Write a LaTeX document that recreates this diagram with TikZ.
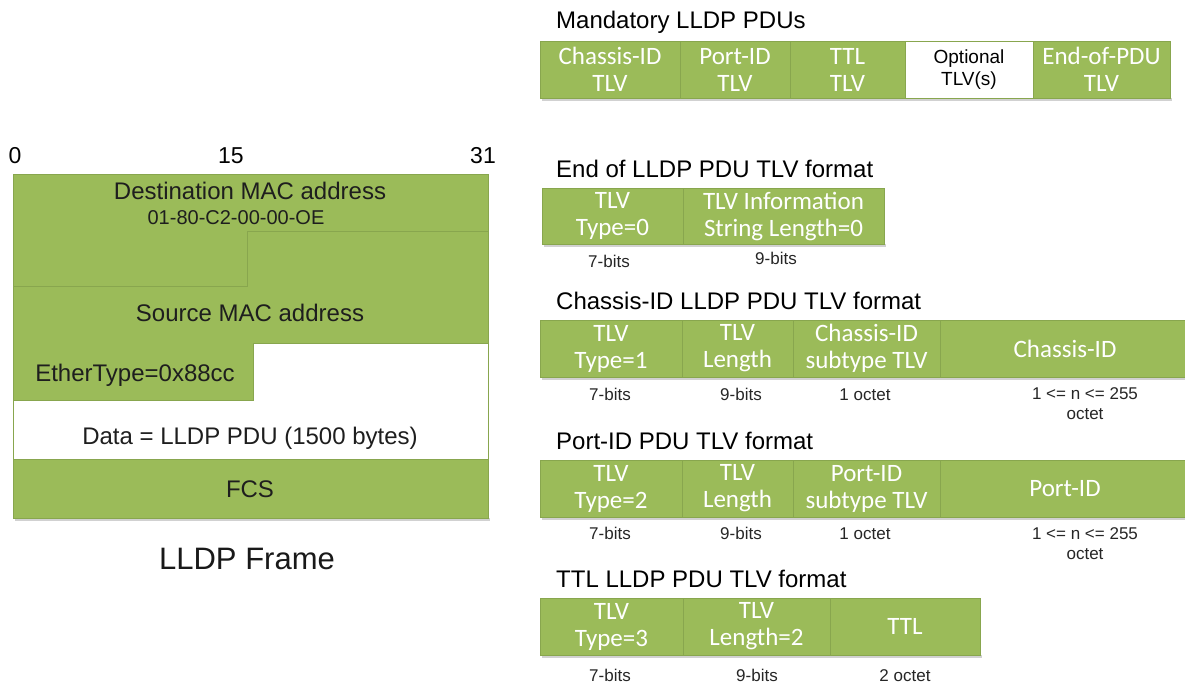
\documentclass[tikz,border=0pt]{standalone}
\usepackage{fontspec}
\setmainfont{Liberation Sans}
\newfontfamily\calib{Carlito}
\definecolor{olv}{HTML}{9BBB59}
\definecolor{olvline}{HTML}{88A64E}
\definecolor{txtdark}{HTML}{1E1E1E}
\tikzset{
  cell/.style={draw=olvline, line width=0.8pt, fill=olv, inner sep=0pt, text=white,
    font=\calib\fontsize{25}{27}\selectfont, align=center},
  wcell/.style={cell, fill=white, text=black, font=\fontsize{19}{22}\selectfont},
  title/.style={anchor=base west, font=\fontsize{24}{28}\selectfont, text=black, inner sep=0pt},
  small/.style={anchor=base, font=\fontsize{17}{20}\selectfont, text=black!85, inner sep=0pt},
  ftext/.style={anchor=base, font=\fontsize{24}{28}\selectfont, text=txtdark, inner sep=0pt},
  shade/.style={fill=black, opacity=0.18},
  frameline/.style={draw=olvline, line width=0.8pt},
}
\begin{document}
\begin{tikzpicture}[x=1pt,y=-1pt]
\useasboundingbox (0,0) rectangle (1185,683);
\fill[white] (0,0) rectangle (1185,683);

% ---------------- LLDP frame (left)
\node[ftext, font=\fontsize{23}{27}\selectfont, text=black] (b0) at (15,163) {0};
\node[ftext, font=\fontsize{23}{27}\selectfont, text=black] (b15) at (231,163) {15};
\node[ftext, font=\fontsize{23}{27}\selectfont, text=black] (b31) at (483,163) {31};

\fill[shade] (15,518) rectangle (490,521);
\fill[olv] (13,174) rectangle (488,518);
\fill[white] (13,400) -- (253,400) -- (253,343) -- (488,343) -- (488,459) -- (13,459) -- cycle;
\draw[frameline] (247,231) -- (488,231);
\draw[frameline] (247,231) -- (247,286) -- (13,286);
\draw[frameline] (13,400) -- (253,400) -- (253,343) -- (488,343);
\draw[frameline] (13,459) -- (488,459);
\draw[frameline] (13,174) rectangle (488,518);

\node[ftext] (dst) at (250,199) {Destination MAC address};
\node[ftext, font=\fontsize{20}{24}\selectfont] (mac) at (236,224) {01-80-C2-00-00-OE};
\node[ftext] (src) at (250,321) {Source MAC address};
\node[ftext] (eth) at (135,381) {EtherType=0x88cc};
\node[ftext] (data) at (250,444) {Data = LLDP PDU (1500 bytes)};
\node[ftext] (fcs) at (250,497) {FCS};
\node[ftext, font=\fontsize{31}{36}\selectfont, text=black!90] (frame) at (247,569) {LLDP Frame};

% ---------------- Mandatory LLDP PDUs
\node[title] (tm) at (556,28) {Mandatory LLDP PDUs};
\fill[shade] (542,98) rectangle (1172,101);
\node[cell, minimum width=140pt, minimum height=57pt] (m1) at (610,69.5) {Chassis-ID\\TLV};
\node[cell, minimum width=110pt, minimum height=57pt] (m2) at (735,69.5) {Port-ID\\TLV};
\node[cell, minimum width=115pt, minimum height=57pt] (m3) at (847.5,69.5) {TTL\\TLV};
\node[wcell, minimum width=128pt, minimum height=57pt] (m4) at (969,69.5) {Optional\\TLV(s)};
\node[cell, minimum width=137pt, minimum height=57pt] (m5) at (1101.5,69.5) {End-of-PDU\\TLV};

% ---------------- End of LLDP PDU
\node[title] (te) at (556,177) {End of LLDP PDU TLV format};
\fill[shade] (544,244) rectangle (886,247);
\node[cell, minimum width=141pt, minimum height=56pt] (e1) at (612.5,216) {TLV\\Type=0};
\node[cell, minimum width=201pt, minimum height=56pt] (e2) at (783.5,216) {TLV Information\\String Length=0};
\node[small] (e1l) at (609,267) {7-bits};
\node[small] (e2l) at (776,264) {9-bits};

% ---------------- Chassis-ID
\node[title] (tc) at (556,309) {Chassis-ID LLDP PDU TLV format};
\fill[shade] (542,377) rectangle (1190,380);
\node[cell, minimum width=142pt, minimum height=57pt] (c1) at (611,348.5) {TLV\\Type=1};
\node[cell, minimum width=111pt, minimum height=57pt] (c2) at (737.5,348.5) {TLV\\Length};
\node[cell, minimum width=147pt, minimum height=57pt] (c3) at (866.5,348.5) {Chassis-ID\\subtype TLV};
\node[cell, minimum width=250pt, minimum height=57pt] (c4) at (1065,348.5) {Chassis-ID};
\node[small] (c1l) at (610,400) {7-bits};
\node[small] (c2l) at (741,400) {9-bits};
\node[small] (c3l) at (865,400) {1 octet};
\node[small] (c4l) at (1085,399) {1 <= n <= 255};
\node[small] (c4m) at (1085,419) {octet};

% ---------------- Port-ID
\node[title] (tp) at (556,449) {Port-ID PDU TLV format};
\fill[shade] (542,517) rectangle (1190,520);
\node[cell, minimum width=142pt, minimum height=57pt] (p1) at (611,488.5) {TLV\\Type=2};
\node[cell, minimum width=111pt, minimum height=57pt] (p2) at (737.5,488.5) {TLV\\Length};
\node[cell, minimum width=147pt, minimum height=57pt] (p3) at (866.5,488.5) {Port-ID\\subtype TLV};
\node[cell, minimum width=250pt, minimum height=57pt] (p4) at (1065,488.5) {Port-ID};
\node[small] (p1l) at (610,539) {7-bits};
\node[small] (p2l) at (741,539) {9-bits};
\node[small] (p3l) at (865,539) {1 octet};
\node[small] (p4l) at (1085,539) {1 <= n <= 255};
\node[small] (p4m) at (1085,559) {octet};

% ---------------- TTL
\node[title] (tt) at (556,587) {TTL LLDP PDU TLV format};
\fill[shade] (542,655) rectangle (982,658);
\node[cell, minimum width=143pt, minimum height=57pt] (t1) at (611.5,626.5) {TLV\\Type=3};
\node[cell, minimum width=147pt, minimum height=57pt] (t2) at (756.5,626.5) {TLV\\Length=2};
\node[cell, minimum width=150pt, minimum height=57pt] (t3) at (905,626.5) {TTL};
\node[small] (t1l) at (610,681) {7-bits};
\node[small] (t2l) at (757,681) {9-bits};
\node[small] (t3l) at (905,681) {2 octet};
\end{tikzpicture}
\end{document}
